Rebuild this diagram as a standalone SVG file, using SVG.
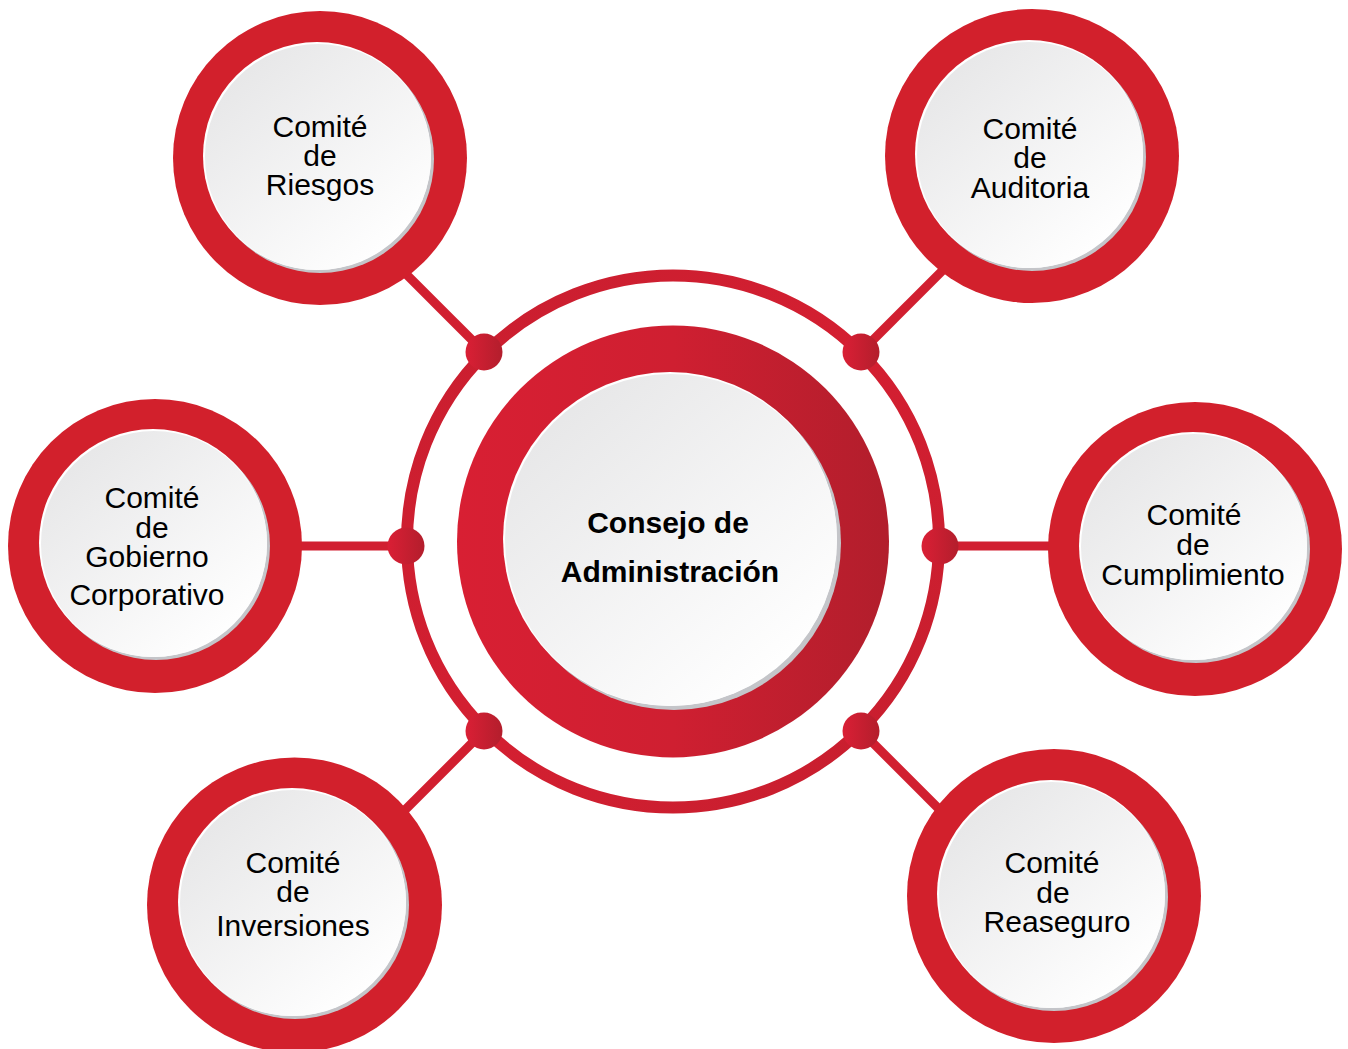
<svg xmlns="http://www.w3.org/2000/svg" width="1348" height="1049" viewBox="0 0 1348 1049">
<defs>
<linearGradient id="disk" x1="0.15" y1="0.1" x2="0.85" y2="0.9">
<stop offset="0" stop-color="#e7e7e8"/>
<stop offset="1" stop-color="#ffffff"/>
</linearGradient>
<linearGradient id="bigring" x1="0" y1="0" x2="1" y2="0">
<stop offset="0" stop-color="#d81f33"/>
<stop offset="0.5" stop-color="#cf1f31"/>
<stop offset="1" stop-color="#b21e2c"/>
</linearGradient>
<linearGradient id="dotg" x1="0" y1="0" x2="1" y2="0">
<stop offset="0" stop-color="#da1f35"/>
<stop offset="1" stop-color="#b31e2c"/>
</linearGradient>
<linearGradient id="thinring" x1="0" y1="0" x2="1" y2="1">
<stop offset="0" stop-color="#c81e2f"/>
<stop offset="0.5" stop-color="#d41f31"/>
<stop offset="1" stop-color="#c51e2e"/>
</linearGradient>
</defs>
<style>
.outer{fill:#d2202c}
.shadow{fill:#c4c5c9}
.hl{fill:#ffffff}
.disk{fill:url(#disk)}
.lbl{font-family:"Liberation Sans",Arial,sans-serif;font-size:30px;fill:#000;text-anchor:middle}
.big{font-family:"Liberation Sans",Arial,sans-serif;font-size:30px;font-weight:bold;fill:#000;text-anchor:middle}
.conn{stroke:#d11f30;stroke-width:9;fill:none}
.dot{fill:url(#dotg)}
</style>
<g id="connectors">
<circle cx="673" cy="541.5" r="266" fill="none" stroke="url(#thinring)" stroke-width="12"/>
<line class="conn" x1="484" y1="352" x2="380" y2="248"/>
<line class="conn" x1="861" y1="352" x2="965" y2="248"/>
<line class="conn" x1="484" y1="731" x2="380" y2="835"/>
<line class="conn" x1="861" y1="731" x2="965" y2="835"/>
<line class="conn" x1="406" y1="546" x2="280" y2="546"/>
<line class="conn" x1="940" y1="546" x2="1070" y2="546"/>
<circle class="dot" cx="484" cy="352" r="18.5"/>
<circle class="dot" cx="861" cy="352" r="18.5"/>
<circle class="dot" cx="484" cy="731" r="18.5"/>
<circle class="dot" cx="861" cy="731" r="18.5"/>
<circle class="dot" cx="406" cy="546" r="18.5"/>
<circle class="dot" cx="940" cy="546" r="18.5"/>
</g>
<g id="consejo">
<circle cx="673" cy="541.5" r="216" fill="url(#bigring)"/>
<circle class="shadow" cx="674" cy="543" r="167"/>
<circle class="hl" cx="670" cy="539" r="167"/>
<circle class="disk" cx="671" cy="540" r="166"/>
<text class="big" x="668" y="533">Consejo de</text>
<text class="big" x="670" y="582">Administración</text>
</g>
<g id="riesgos">
<circle class="outer" cx="320" cy="158" r="147"/>
<circle class="shadow" cx="320" cy="159" r="114"/>
<circle class="hl" cx="317" cy="156" r="114"/>
<circle class="disk" cx="318" cy="157" r="113"/>
<text class="lbl" x="320" y="137">Comité</text>
<text class="lbl" x="320" y="166">de</text>
<text class="lbl" x="320" y="195">Riesgos</text>
</g>
<g id="auditoria">
<circle class="outer" cx="1032" cy="156" r="147"/>
<circle class="shadow" cx="1032" cy="157" r="114"/>
<circle class="hl" cx="1029" cy="154" r="114"/>
<circle class="disk" cx="1030" cy="155" r="113"/>
<text class="lbl" x="1030" y="139">Comité</text>
<text class="lbl" x="1030" y="168">de</text>
<text class="lbl" x="1030" y="198">Auditoria</text>
</g>
<g id="gobierno">
<circle class="outer" cx="155" cy="546" r="147"/>
<circle class="shadow" cx="156" cy="546" r="114"/>
<circle class="hl" cx="153" cy="543" r="114"/>
<circle class="disk" cx="154" cy="544" r="113"/>
<text class="lbl" x="152" y="508">Comité</text>
<text class="lbl" x="152" y="538">de</text>
<text class="lbl" x="147" y="567">Gobierno</text>
<text class="lbl" x="147" y="605">Corporativo</text>
</g>
<g id="cumplimiento">
<circle class="outer" cx="1195" cy="549" r="147"/>
<circle class="shadow" cx="1196" cy="549" r="114"/>
<circle class="hl" cx="1193" cy="546" r="114"/>
<circle class="disk" cx="1194" cy="547" r="113"/>
<text class="lbl" x="1194" y="525">Comité</text>
<text class="lbl" x="1193" y="555">de</text>
<text class="lbl" x="1193" y="585">Cumplimiento</text>
</g>
<g id="inversiones">
<circle class="outer" cx="294.5" cy="905" r="147.5"/>
<circle class="shadow" cx="295" cy="905" r="114"/>
<circle class="hl" cx="292" cy="902" r="114"/>
<circle class="disk" cx="293" cy="903" r="113"/>
<text class="lbl" x="293" y="873">Comité</text>
<text class="lbl" x="293" y="902">de</text>
<text class="lbl" x="293" y="936">Inversiones</text>
</g>
<g id="reaseguro">
<circle class="outer" cx="1054" cy="896" r="147"/>
<circle class="shadow" cx="1054" cy="897" r="114"/>
<circle class="hl" cx="1051" cy="894" r="114"/>
<circle class="disk" cx="1052" cy="895" r="113"/>
<text class="lbl" x="1052" y="873">Comité</text>
<text class="lbl" x="1053" y="903">de</text>
<text class="lbl" x="1057" y="932">Reaseguro</text>
</g>
</svg>
